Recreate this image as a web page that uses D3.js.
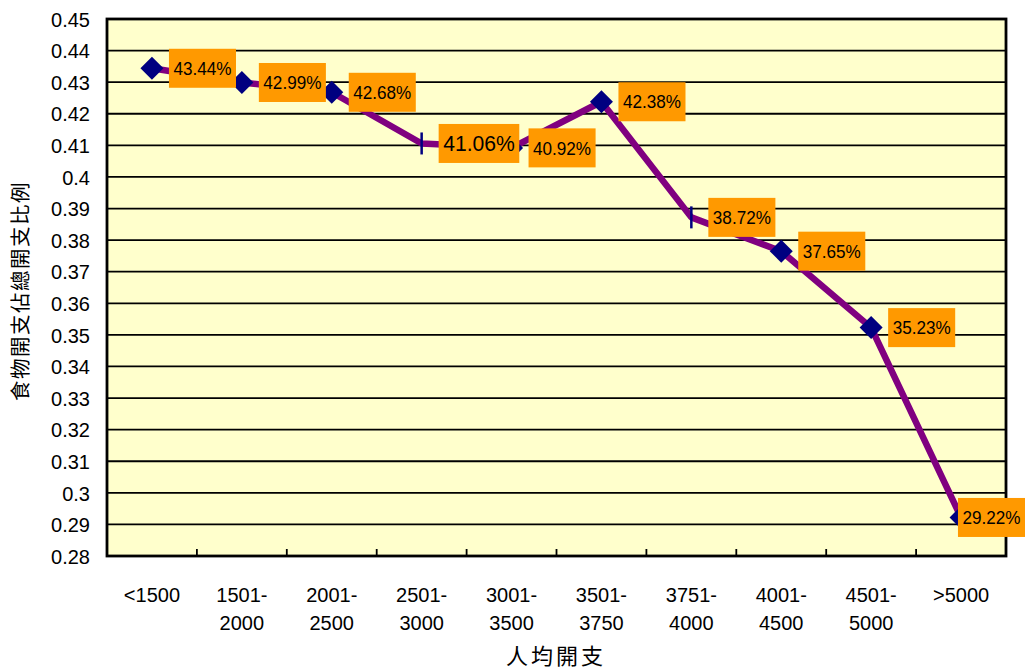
<!DOCTYPE html>
<html>
<head>
<meta charset="utf-8">
<script src="https://cdn.jsdelivr.net/npm/d3@7"></script>
<style>
  html, body { margin: 0; padding: 0; background: #fff; }
  svg { display: block; }
  text { font-family: "Liberation Sans", Arial, sans-serif; }
</style>
</head>
<body>
<svg id="chart" width="1025" height="670"></svg>
<script>
// ---- data ----
const categories = ["<1500", "1501-2000", "2001-2500", "2501-3000", "3001-3500", "3501-3750", "3751-4000", "4001-4500", "4501-5000", ">5000"];
const categoryLines = [["<1500"], ["1501-", "2000"], ["2001-", "2500"], ["2501-", "3000"], ["3001-", "3500"], ["3501-", "3750"], ["3751-", "4000"], ["4001-", "4500"], ["4501-", "5000"], [">5000"]];
const values = [0.4344, 0.4299, 0.4268, 0.4106, 0.4092, 0.4238, 0.3872, 0.3765, 0.3523, 0.2922];
const valueLabels = ["43.44%", "42.99%", "42.68%", "41.06%", "40.92%", "42.38%", "38.72%", "37.65%", "35.23%", "29.22%"];
const markerKinds = ["diamond", "diamond", "diamond", "bar", "diamond", "diamond", "bar", "diamond", "diamond", "diamond"];
const yTickValues = d3.range(28, 46).map(v => v / 100);
const yTitle = "食物開支佔總開支比例";
const xTitle = "人均開支";

// ---- layout ----
const W = 1025, H = 670;
const plot = { left: 107, top: 19, right: 1006, bottom: 556 };
const svg = d3.select("#chart");
const FONT = '"Liberation Sans", Arial, sans-serif';

const x = d3.scaleBand().domain(categories).range([plot.left, plot.right]).paddingInner(0).paddingOuter(0);
const y = d3.scaleLinear().domain([0.28, 0.45]).range([plot.bottom, plot.top]);
const cx = c => x(c) + x.bandwidth() / 2;

// background
svg.append("rect")
  .attr("x", plot.left).attr("y", plot.top)
  .attr("width", plot.right - plot.left).attr("height", plot.bottom - plot.top)
  .attr("fill", "#FFFFCC");

// gridlines
svg.append("g").selectAll("line")
  .data(yTickValues.filter(v => v > 0.28 && v < 0.45))
  .join("line")
  .attr("x1", plot.left).attr("x2", plot.right)
  .attr("y1", d => y(d)).attr("y2", d => y(d))
  .attr("stroke", "#000").attr("stroke-width", 1.8);

// y axis
const yAxis = svg.append("g")
  .attr("transform", `translate(${plot.left},0)`)
  .call(d3.axisLeft(y).tickValues(yTickValues).tickSize(0).tickPadding(17)
    .tickFormat(d => String(+d.toFixed(2))));
yAxis.select(".domain").remove();
yAxis.selectAll("text")
  .attr("font-size", 20).attr("fill", "#000")
  .attr("dy", "0.36em")
  .style("font-family", FONT);

// x axis ticks (inside, at category boundaries)
const bounds = categories.slice(1).map(c => x(c));
svg.append("g").selectAll("line")
  .data(bounds).join("line")
  .attr("x1", d => d).attr("x2", d => d)
  .attr("y1", plot.bottom).attr("y2", plot.bottom - 7)
  .attr("stroke", "#000").attr("stroke-width", 1.8);

// x category labels
const xl = svg.append("g");
categories.forEach((c, i) => {
  const t = xl.append("text")
    .attr("x", cx(c)).attr("y", 602)
    .attr("text-anchor", "middle")
    .attr("font-size", 20).attr("fill", "#000");
  categoryLines[i].forEach((ln, j) => {
    t.append("tspan").attr("x", cx(c)).attr("dy", j === 0 ? 0 : 28).text(ln);
  });
});

// plot border
svg.append("rect")
  .attr("x", plot.left).attr("y", plot.top)
  .attr("width", plot.right - plot.left).attr("height", plot.bottom - plot.top)
  .attr("fill", "none").attr("stroke", "#000").attr("stroke-width", 2.8);

// line
const line = d3.line().x((d, i) => cx(categories[i])).y(d => y(d));
svg.append("path")
  .datum(values)
  .attr("d", line)
  .attr("fill", "none")
  .attr("stroke", "#800080")
  .attr("stroke-width", 6.5)
  .attr("stroke-linejoin", "round");

// markers
const mk = svg.append("g");
values.forEach((v, i) => {
  const px = cx(categories[i]), py = y(v);
  if (markerKinds[i] === "diamond") {
    const r = 11.5;
    mk.append("path")
      .attr("d", `M${px},${py - r}L${px + r},${py}L${px},${py + r}L${px - r},${py}Z`)
      .attr("fill", "#000080");
  } else {
    mk.append("line")
      .attr("x1", px).attr("x2", px)
      .attr("y1", py - 11).attr("y2", py + 11)
      .attr("stroke", "#000080").attr("stroke-width", 2.5);
  }
});

// data labels
const lb = svg.append("g");
values.forEach((v, i) => {
  const px = cx(categories[i]), py = y(v);
  const big = i === 3;
  const fs = big ? 22 : 18.5;
  const g = lb.append("g");
  const t = g.append("text")
    .attr("font-size", fs).attr("fill", "#000")
    .attr("text-anchor", "start")
    .text(valueLabels[i]);
  const natural = t.node().getComputedTextLength();
  const tw = natural * (big ? 0.96 : 0.925);
  t.attr("textLength", tw).attr("lengthAdjust", "spacingAndGlyphs");
  const bw = tw + 9, bh = 39;
  let bx = px + 17;
  if (bx + bw > W) bx = W - bw;
  g.insert("rect", "text")
    .attr("x", bx).attr("y", py - bh / 2)
    .attr("width", bw).attr("height", bh)
    .attr("fill", "#FF9900");
  t.attr("x", bx + (bw - tw) / 2).attr("y", py + fs * 0.36);
});

// axis titles
svg.append("text")
  .attr("transform", `translate(28,291) rotate(-90)`)
  .attr("text-anchor", "middle")
  .attr("font-size", 20.5)
  .attr("letter-spacing", 1.5)
  .style("font-family", '"Noto Sans CJK TC", "Noto Sans CJK SC", sans-serif')
  .attr("fill", "#000")
  .text(yTitle);

svg.append("text")
  .attr("x", 556).attr("y", 664)
  .attr("text-anchor", "middle")
  .attr("font-size", 22)
  .attr("letter-spacing", 3)
  .style("font-family", '"Noto Sans CJK TC", "Noto Sans CJK SC", sans-serif')
  .attr("fill", "#000")
  .text(xTitle);
</script>
</body>
</html>
